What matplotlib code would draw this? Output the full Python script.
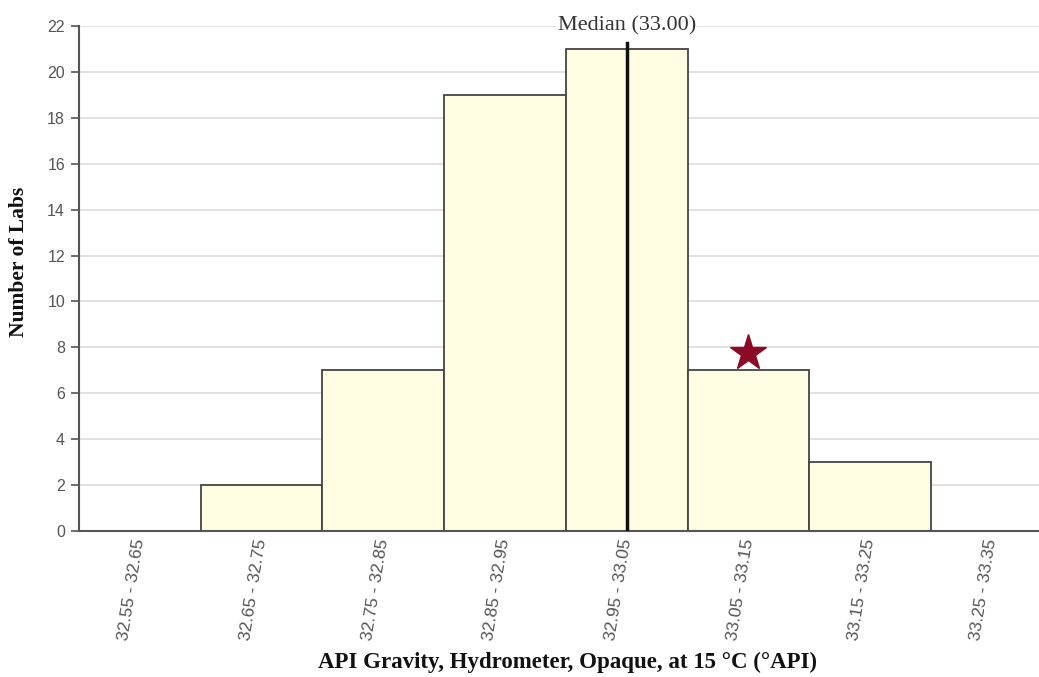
import matplotlib
matplotlib.use('Agg')
import matplotlib.pyplot as plt
import numpy as np

# histogram bins (lower edges) and counts
bin_lo = [32.55, 32.65, 32.75, 32.85, 32.95, 33.05, 33.15, 33.25]
bin_width = 0.10
counts = [0, 2, 7, 19, 21, 7, 3, 0]
bin_labels = ['32.55 - 32.65', '32.65 - 32.75', '32.75 - 32.85', '32.85 - 32.95',
              '32.95 - 33.05', '33.05 - 33.15', '33.15 - 33.25', '33.25 - 33.35']
median = 33.00
star_x = 33.10
star_y = 7.75

fig = plt.figure(figsize=(10.39, 6.77), dpi=100)
W, H = 1039, 677
x0, x1 = 79, 79 + 8 * 121.7
y_top, y_bot = 26, 531
ax = fig.add_axes([x0 / W, (H - y_bot) / H, (x1 - x0) / W, (y_bot - y_top) / H])

ax.set_xlim(bin_lo[0], bin_lo[-1] + bin_width)
ax.set_ylim(0, 22)
ax.set_yticks(np.arange(0, 23, 2))
ax.grid(axis='y', color='#dddddd', linewidth=1.2)
ax.set_axisbelow(True)

ax.bar(bin_lo, counts, width=bin_width, align='edge', color='#fffde1',
       edgecolor='#444444', linewidth=1.3, zorder=2)

ax.plot([median, median], [0, 21.25], color='#111111', linewidth=2.5, zorder=3)
ax.text(median, 22, 'Median (33.00)', ha='center', va='center',
        family='Liberation Serif', fontsize=16, color='#333333',
        bbox=dict(facecolor='white', edgecolor='none', pad=1))

ax.plot([star_x], [star_y], marker='*', markersize=27, color='#8b0a26', zorder=4,
        linestyle='none')

centers = [b + bin_width / 2 for b in bin_lo]
ax.set_xticks(centers)
ax.set_xticklabels(bin_labels, rotation=81, ha='right', va='center',
                   rotation_mode='anchor', family='Liberation Sans',
                   fontsize=12.5, color='#555555')
ax.tick_params(axis='x', length=0, pad=6)
ax.tick_params(axis='y', length=6, width=1.2, color='#555555', labelcolor='#555555',
               labelsize=11.5, pad=4)
for lab in ax.get_yticklabels():
    lab.set_family('Liberation Sans')

for s in ['top', 'right']:
    ax.spines[s].set_visible(False)
for s in ['left', 'bottom']:
    ax.spines[s].set_color('#555555')
    ax.spines[s].set_linewidth(1.5)

fig.text(19 / W, 1 - 262 / H, 'Number of Labs', rotation=90, ha='center', va='center',
         family='Liberation Serif', fontweight='bold', fontsize=15.5, color='#111111')
fig.text(568 / W, 1 - 662 / H, 'API Gravity, Hydrometer, Opaque, at 15 \u00b0C (\u00b0API)',
         ha='center', va='center', family='Liberation Serif', fontweight='bold',
         fontsize=16.5, color='#111111')

fig.savefig('out.png', dpi=100)
